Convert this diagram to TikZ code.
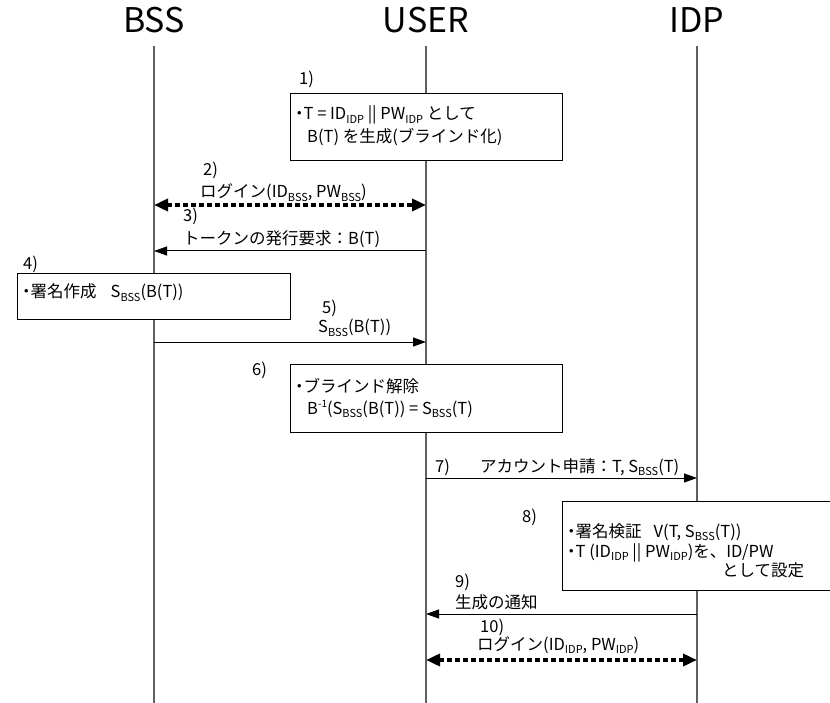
\documentclass[tikz,border=0pt]{standalone}
\usepackage{fontspec}
\setmainfont{Noto Sans CJK JP}
\usetikzlibrary{arrows.meta}
\definecolor{lifegray}{RGB}{95,95,95}
\newcommand{\sbs}[1]{\raisebox{-0.35ex}{\fontsize{11}{11}\selectfont #1}}
\newcommand{\sps}[1]{\raisebox{0.75ex}{\fontsize{10}{10}\selectfont #1}}
\newcommand{\bul}{\kern-1pt・\kern-4pt}
\begin{document}
\begin{tikzpicture}[x=1pt,y=-1pt,
  life/.style={draw=lifegray,line width=1.3pt},
  ttl/.style={font=\fontsize{34}{34}\selectfont,anchor=base,inner sep=0pt},
  lbl/.style={font=\fontsize{16.5}{16.5}\selectfont,anchor=base west,inner sep=0pt},
  box/.style={draw=black,fill=white,line width=0.9pt},
  msg/.style={draw=black,line width=1pt,-{Triangle[length=13pt,width=9pt]}},
  dmsg/.style={draw=black,line width=3.5pt,dash pattern=on 5pt off 3pt,
     {Triangle[length=14pt,width=12pt]}-{Triangle[length=14pt,width=12pt]}}]
\useasboundingbox (0,0) rectangle (830,703);
% titles
\node[ttl] (tb) at (154,33) {BSS};
\node[ttl] (tu) at (426,33) {USER};
\node[ttl] (ti) at (697,33) {IDP};
% lifelines
\coordinate (bTop) at (154,46); \coordinate (bBot) at (154,703);
\coordinate (uTop) at (426,46); \coordinate (uBot) at (426,703);
\coordinate (iTop) at (697,46); \coordinate (iBot) at (697,703);
\draw[life] (bTop) -- (bBot);
\draw[life] (uTop) -- (uBot);
\draw[life] (iTop) -- (iBot);
% box 1
\draw[box] (290,93) rectangle (562,160);
\node[lbl] (n1) at (299,85) {1)};
\node[lbl] (b1a) at (292,120) {\bul T = ID\sbs{IDP} || PW\sbs{IDP} として};
\node[lbl] (b1b) at (307,143) {B(T) を生成(ブラインド化)};
% 2
\coordinate (b2) at (154,205); \coordinate (u2) at (426,205);
\draw[dmsg] (b2) -- (u2);
\node[lbl] (n2) at (203,176) {2)};
\node[lbl] (m2) at (200,198) {ログイン(ID\sbs{BSS}, PW\sbs{BSS})};
% 3
\coordinate (u3) at (426,251); \coordinate (b3) at (154,251);
\draw[msg] (u3) -- (b3);
\node[lbl] (n3) at (183,222) {3)};
\node[lbl] (m3) at (183,245) {トークンの発行要求：B(T)};
% box 4
\draw[box] (17,273) rectangle (290,319);
\node[lbl] (n4) at (23,270) {4)};
\node[lbl] (b4) at (19,298) {\bul 署名作成\hspace{14pt}S\sbs{BSS}(B(T))};
% 5
\coordinate (b5) at (154,342); \coordinate (u5) at (426,342);
\draw[msg] (b5) -- (u5);
\node[lbl] (n5) at (322,313) {5)};
\node[lbl] (m5) at (318,333) {S\sbs{BSS}(B(T))};
% box 6
\draw[box] (290,364) rectangle (562,432);
\node[lbl] (n6) at (252,375) {6)};
\node[lbl] (b6a) at (292,392) {\bul ブラインド解除};
\node[lbl] (b6b) at (307,414) {B\sps{-1}(S\sbs{BSS}(B(T)) = S\sbs{BSS}(T)};
% 7
\coordinate (u7) at (426,478); \coordinate (i7) at (697,478);
\draw[msg] (u7) -- (i7);
\node[lbl] (n7) at (435,472) {7)};
\node[lbl] (m7) at (480,472) {アカウント申請：T, S\sbs{BSS}(T)};
% box 8 (runs off the right edge)
\fill[white] (562.5,501.5) rectangle (840,589.5);
\draw[black,line width=0.9pt] (840,501) -- (562,501) -- (562,590) -- (840,590);
\node[lbl] (n8) at (522,522) {8)};
\node[lbl] (b8a) at (564,537) {\bul 署名検証\hspace{12pt}V(T, S\sbs{BSS}(T))};
\node[lbl] (b8b) at (564,557) {\bul T (ID\sbs{IDP} || PW\sbs{IDP})を、ID/PW};
\node[lbl] (b8c) at (722,576) {として設定};
% 9
\coordinate (i9) at (697,614); \coordinate (u9) at (426,614);
\draw[msg] (i9) -- (u9);
\node[lbl] (n9) at (455,587) {9)};
\node[lbl] (m9) at (455,608) {生成の通知};
% 10
\coordinate (u10) at (426,660); \coordinate (i10) at (697,660);
\draw[dmsg] (u10) -- (i10);
\node[lbl] (n10) at (480,632) {10)};
\node[lbl] (m10) at (477,650) {ログイン(ID\sbs{IDP}, PW\sbs{IDP})};
\end{tikzpicture}
\end{document}
